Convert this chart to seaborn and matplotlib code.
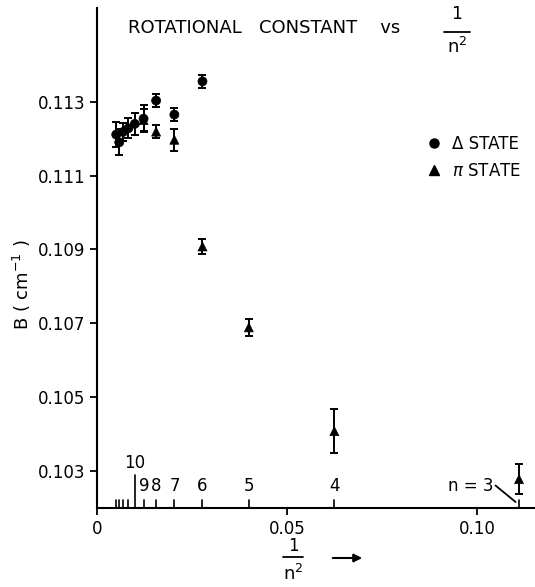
import matplotlib
matplotlib.use("Agg")
import matplotlib.pyplot as plt
import seaborn as sns
import pandas as pd
import numpy as np

# 1/n^2 positions and rotational constants B (cm^-1)
delta_x = [0.0051, 0.0059, 0.0069, 0.0083, 0.0100, 0.0123, 0.0156, 0.0204, 0.0278]
delta_b = [0.11211, 0.11190, 0.11218, 0.11228, 0.11240, 0.11254, 0.11303, 0.11265, 0.11355]
delta_err = [0.00035, 0.00035, 0.00025, 0.00027, 0.00030, 0.00037, 0.00018, 0.00018, 0.00018]

pi_x = [0.0123, 0.0156, 0.0204, 0.0278, 0.0400, 0.0625, 0.1111]
pi_b = [0.11250, 0.11219, 0.11197, 0.10908, 0.10689, 0.10408, 0.10278]
pi_err = [0.00030, 0.00018, 0.00030, 0.00020, 0.00023, 0.00060, 0.00040]

# principal quantum number marks along the x axis
n_values = [3, 4, 5, 6, 7, 8, 9, 10, 11, 12, 13, 14]
n_labels = {4: "4", 5: "5", 6: "6", 7: "7", 8: "8", 9: "9"}

y_ticks = [0.103, 0.105, 0.107, 0.109, 0.111, 0.113]
x_ticks = [0, 0.05, 0.10]
x_ticklabels = ["0", "0.05", "0.10"]

df = pd.concat(
    [
        pd.DataFrame({"x": delta_x, "B": delta_b, "err": delta_err, "State": "delta"}),
        pd.DataFrame({"x": pi_x, "B": pi_b, "err": pi_err, "State": "pi"}),
    ],
    ignore_index=True,
)

sns.set_theme(style="ticks")
plt.rcParams["font.family"] = ["DejaVu Sans"]
plt.rcParams["text.color"] = "black"
plt.rcParams["xtick.color"] = "black"
plt.rcParams["ytick.color"] = "black"
plt.rcParams["axes.labelcolor"] = "black"

fig = plt.figure(figsize=(5.35, 5.87), dpi=100)
ax = fig.add_axes([0.181, 0.1346, 0.819, 0.852])

for state in ["delta", "pi"]:
    d = df[df["State"] == state]
    ax.errorbar(d["x"], d["B"], yerr=d["err"], fmt="none", ecolor="black",
                elinewidth=1.4, capsize=3, capthick=1.4, zorder=2)

sns.scatterplot(data=df, x="x", y="B", style="State", markers={"delta": "o", "pi": "^"},
                color="black", s=42, edgecolor="black", linewidth=0.5,
                legend=False, ax=ax, zorder=3)

ax.set_xlim(0, 0.1153)
ax.set_ylim(0.102, 0.11554)
ax.set_xticks(x_ticks)
ax.set_xticklabels(x_ticklabels)
ax.set_yticks(y_ticks)
ax.set_yticklabels([f"{v:.3f}" for v in y_ticks])
ax.tick_params(axis="both", labelsize=12, length=5, width=1.3, color="black",
               labelcolor="black", direction="out")
ax.set_xlabel("")
ax.set_ylabel("")
for side in ["top", "right"]:
    ax.spines[side].set_visible(False)
for side in ["left", "bottom"]:
    ax.spines[side].set_color("black")
    ax.spines[side].set_linewidth(1.5)

# n-markers standing on the x axis
tr = ax.get_xaxis_transform()
for n in n_values:
    h = 0.065 if n == 10 else 0.016
    ax.plot([1 / n**2, 1 / n**2], [0, h], color="black", lw=1.2, transform=tr, clip_on=False)
for n, lab in n_labels.items():
    ax.text(1 / n**2, 0.025, lab, transform=tr, ha="center", va="bottom", fontsize=12)
ax.text(1 / 100, 0.072, "10", transform=tr, ha="center", va="bottom", fontsize=12)
ax.text(0.1045, 0.025, "n = 3", transform=tr, ha="right", va="bottom", fontsize=12)
ax.plot([0.1049, 0.1102], [0.045, 0.012], color="black", lw=1.3, transform=tr, clip_on=False)

# legend
handles = [
    plt.Line2D([], [], marker="o", ls="none", color="black", ms=6.5),
    plt.Line2D([], [], marker="^", ls="none", color="black", ms=6.5),
]
ax.legend(handles, ["\u0394 STATE", "$\\pi$ STATE"], loc="upper left",
          bbox_to_anchor=(0.78, 0.785), bbox_transform=fig.transFigure,
          frameon=False, fontsize=12, handletextpad=0.6, handlelength=1.0,
          labelspacing=0.55, borderpad=0)

# title with 1/n^2 fraction
fig.text(128 / 535, 1 - 28 / 587, "ROTATIONAL   CONSTANT    vs", fontsize=13,
         ha="left", va="center")
fig.text(457 / 535, 1 - 14 / 587, "1", fontsize=12.5, ha="center", va="center")
fig.add_artist(plt.Line2D([444 / 535, 470 / 535], [1 - 32 / 587, 1 - 32 / 587],
                          color="black", lw=1.3))
fig.text(457 / 535, 1 - 47 / 587, "n$^2$", fontsize=13, ha="center", va="center")

# x label fraction with arrow
fig.text(293 / 535, 1 - 546 / 587, "1", fontsize=12, ha="center", va="center")
fig.add_artist(plt.Line2D([283 / 535, 303 / 535], [1 - 557 / 587, 1 - 557 / 587],
                          color="black", lw=1.3))
fig.text(293 / 535, 1 - 574 / 587, "n$^2$", fontsize=13, ha="center", va="center")
fig.add_artist(matplotlib.patches.FancyArrowPatch(
    (330 / 535, 1 - 558 / 587), (365 / 535, 1 - 558 / 587),
    transform=fig.transFigure, arrowstyle="-|>", mutation_scale=12,
    color="black", lw=1.5))

# y label
fig.text(22 / 535, 1 - 285 / 587, "B ( cm$^{-1}$ )", fontsize=13, rotation=90,
         ha="center", va="center")

fig.savefig("out.png", dpi=100)
